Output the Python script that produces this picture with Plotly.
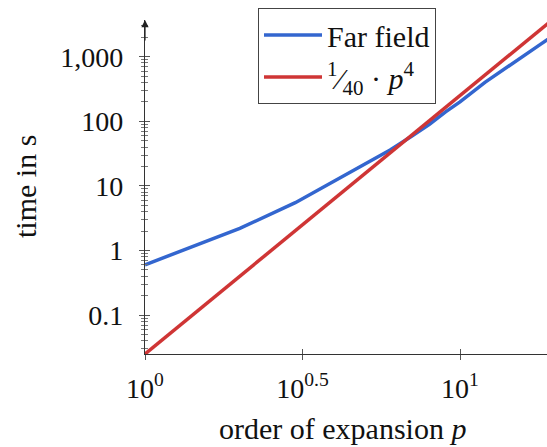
import plotly.graph_objects as go

# ---- data ----
p_far = [1, 2, 3, 4, 5, 6, 7, 8, 9, 10, 12, 14, 16, 18, 20]
t_far = [0.6, 2.2, 5.5, 12, 22, 36, 58, 90, 140, 200, 400, 660, 1040, 1550, 2200]
p_ref = [1, 20]
t_ref = [0.025, 4000]

x_tickvals = [1, 10 ** 0.5, 10]
x_ticktext = ["10<sup>0</sup>", "10<sup>0.5</sup>", "10<sup>1</sup>"]
y_tickvals = [0.1, 1, 10, 100, 1000]
y_ticktext = ["0.1", "1", "10", "100", "1,000"]

name_far = "Far field"
name_ref = "<sup>1</sup>⁄<sub>40</sub> · <i>p</i><sup>4</sup>"
x_title = "order of expansion <i>p</i>"
y_title = "time in s"

FONT = "Liberation Serif, DejaVu Serif, serif"
BLUE = "#3366cf"
RED = "#cf3535"
AX = "#333333"

W, H = 547, 447
ML, MR, MT, MB = 145, 0, 20, 93
plot_w = W - ML - MR
plot_h = H - MT - MB
px_per_dec_x = 315.0
px_per_dec_y = 64.6
xr = [0, plot_w / px_per_dec_x]
y0 = -1.6021
yr = [y0, y0 + plot_h / px_per_dec_y]

fig = go.Figure()
fig.add_trace(go.Scatter(x=p_far, y=t_far, mode="lines", name=name_far,
                         line=dict(color=BLUE, width=3.5), xaxis="x", yaxis="y"))
fig.add_trace(go.Scatter(x=p_ref, y=t_ref, mode="lines", name=name_ref,
                         line=dict(color=RED, width=3.5), xaxis="x2", yaxis="y2"))

common_x = dict(type="log", range=xr, tickvals=x_tickvals, showgrid=False,
                zeroline=False, automargin=False)
common_y = dict(type="log", range=yr, tickvals=y_tickvals, showgrid=False,
                zeroline=False, automargin=False)

fig.update_layout(
    width=W, height=H,
    margin=dict(l=ML, r=MR, t=MT, b=MB, autoexpand=False),
    paper_bgcolor="white", plot_bgcolor="white",
    font=dict(family=FONT, size=26, color="#111111"),
    showlegend=True,
    legend=dict(x=(258 - ML) / plot_w, y=1 + (MT - 8) / plot_h,
                xanchor="left", yanchor="top",
                bgcolor="white", bordercolor="#444444", borderwidth=1,
                font=dict(family=FONT, size=30, color="#111111"), itemwidth=58,
                tracegroupgap=0),
    xaxis=dict(**common_x, ticktext=x_ticktext, ticks="outside", ticklen=5,
               tickcolor="#555555", tickwidth=1,
               showline=True, linecolor=AX, linewidth=1.2,
               tickfont=dict(family=FONT, size=28, color="#111111"),
               ticklabelstandoff=4),
    yaxis=dict(**common_y, ticktext=y_ticktext, ticks="outside", ticklen=5,
               tickcolor="#555555", tickwidth=1,
               minor=dict(ticks="outside", ticklen=3, tickcolor="#777777",
                          tickwidth=1, dtick="D1"),
               showline=True, linecolor=AX, linewidth=1.2,
               tickfont=dict(family=FONT, size=28, color="#111111"),
               ticklabelstandoff=10),
    xaxis2=dict(**common_x, overlaying="x", anchor="y2", ticks="inside", ticklen=5,
                tickcolor="#555555", tickwidth=1, showticklabels=False, showline=False),
    yaxis2=dict(**common_y, overlaying="y", anchor="x2", ticks="inside", ticklen=5,
                tickcolor="#555555", tickwidth=1,
                minor=dict(ticks="inside", ticklen=3, tickcolor="#777777",
                           tickwidth=1, dtick="D1"),
                showticklabels=False, showline=False),
)

fig.add_annotation(x=0.5 - 4 / plot_w, y=-(428 - (MT + plot_h)) / plot_h,
                   xref="paper", yref="paper", text=x_title, showarrow=False,
                   xanchor="center", yanchor="middle",
                   font=dict(family=FONT, size=30, color="#111111"))
fig.add_annotation(x=-(ML - 25) / plot_w, y=0.5, xref="paper", yref="paper",
                   text=y_title, showarrow=False, textangle=-90,
                   xanchor="center", yanchor="middle",
                   font=dict(family=FONT, size=30, color="#111111"))

fig.add_annotation(x=0, y=1, xref="paper", yref="paper", text="",
                   showarrow=True, ax=0, ay=22, axref="pixel", ayref="pixel",
                   arrowhead=2, arrowsize=1.2, arrowwidth=1.2, arrowcolor="#222222")

fig.write_html("out.html", config={"displayModeBar": False},
               post_script="document.body.style.margin='0';document.body.style.overflow='hidden';")
